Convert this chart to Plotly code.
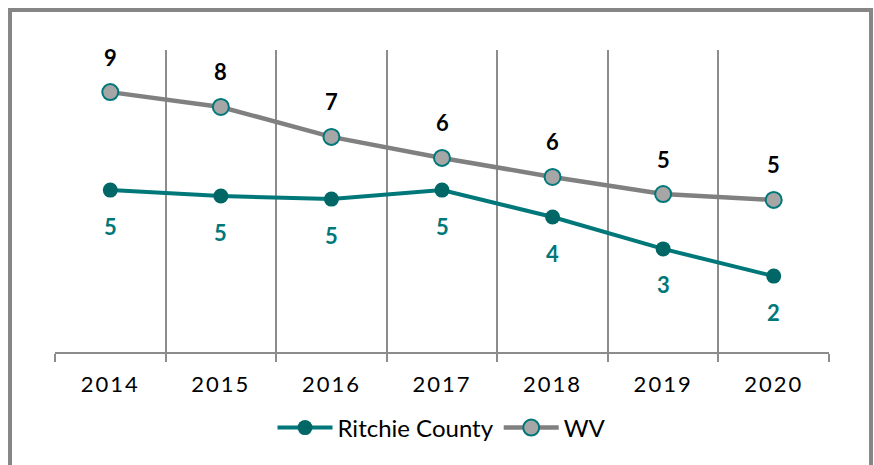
import plotly.graph_objects as go

years = ["2014", "2015", "2016", "2017", "2018", "2019", "2020"]
ritchie = [5.21, 5.00, 4.89, 5.21, 4.25, 3.11, 2.14]
wv = [8.71, 8.18, 7.11, 6.36, 5.68, 5.07, 4.86]

TEAL_LINE = "#00787A"
TEAL_DARK = "#006666"
GRAY_LINE = "#808080"
GRAY_FILL = "#A6A6A6"
FONT = "Lato"

fig = go.Figure()
fig.add_trace(go.Scatter(
    x=years, y=ritchie, name="Ritchie County", mode="lines+markers",
    line=dict(color=TEAL_LINE, width=4),
    marker=dict(color=TEAL_DARK, size=15, line=dict(width=0)),
))
fig.add_trace(go.Scatter(
    x=years, y=wv, name="WV", mode="lines+markers",
    line=dict(color=GRAY_LINE, width=4.5),
    marker=dict(color=GRAY_FILL, size=16, line=dict(color=TEAL_LINE, width=2)),
))

annotations = []
for i, v in enumerate(wv):
    annotations.append(dict(x=i, y=v, xref="x", yref="y", text=f"<b>{round(v)}</b>",
                            showarrow=False, yshift=35,
                            font=dict(family=FONT, size=22, color="#000000")))
for i, v in enumerate(ritchie):
    annotations.append(dict(x=i, y=v, xref="x", yref="y", text=f"<b>{round(v)}</b>",
                            showarrow=False, yshift=-36,
                            font=dict(family=FONT, size=22, color=TEAL_LINE)))

fig.update_layout(
    width=874, height=465,
    margin=dict(l=55, r=45, t=50, b=113),
    paper_bgcolor="white", plot_bgcolor="white",
    font=dict(family=FONT, size=22, color="#000000"),
    showlegend=True,
    legend=dict(orientation="h", x=0.5, xanchor="center", y=-0.2517, yanchor="middle",
                font=dict(family=FONT, size=24, color="#000000"), itemwidth=55,
                bgcolor="rgba(0,0,0,0)"),
    annotations=annotations,
    shapes=[dict(type="rect", xref="paper", yref="paper",
                 x0=-0.0581, x1=1.0543, y0=-0.40, y1=1.1325,
                 line=dict(color="#868686", width=4), fillcolor="rgba(0,0,0,0)",
                 layer="below")],
)
fig.update_xaxes(
    type="category", range=[-0.5, 6.5], tickson="boundaries",
    showgrid=True, gridcolor="#8C8C8C", gridwidth=1.5,
    showline=True, linecolor="#8C8C8C", linewidth=2,
    ticks="outside", ticklen=8, tickcolor="#8C8C8C", tickwidth=2,
    ticklabelstandoff=12,
    tickfont=dict(family=FONT, size=22, color="#000000"),
    zeroline=False,
)
fig.update_yaxes(
    range=[-0.5714, 10.2143], showgrid=False, showticklabels=False,
    zeroline=False, showline=False, ticks="",
)

post = """
document.body.style.margin='0';
document.body.style.overflow='hidden';
document.querySelectorAll('.xtick text').forEach(function(t){t.style.letterSpacing='2px';});
"""
fig.write_html("out.html", post_script=post, config={"displayModeBar": False})
